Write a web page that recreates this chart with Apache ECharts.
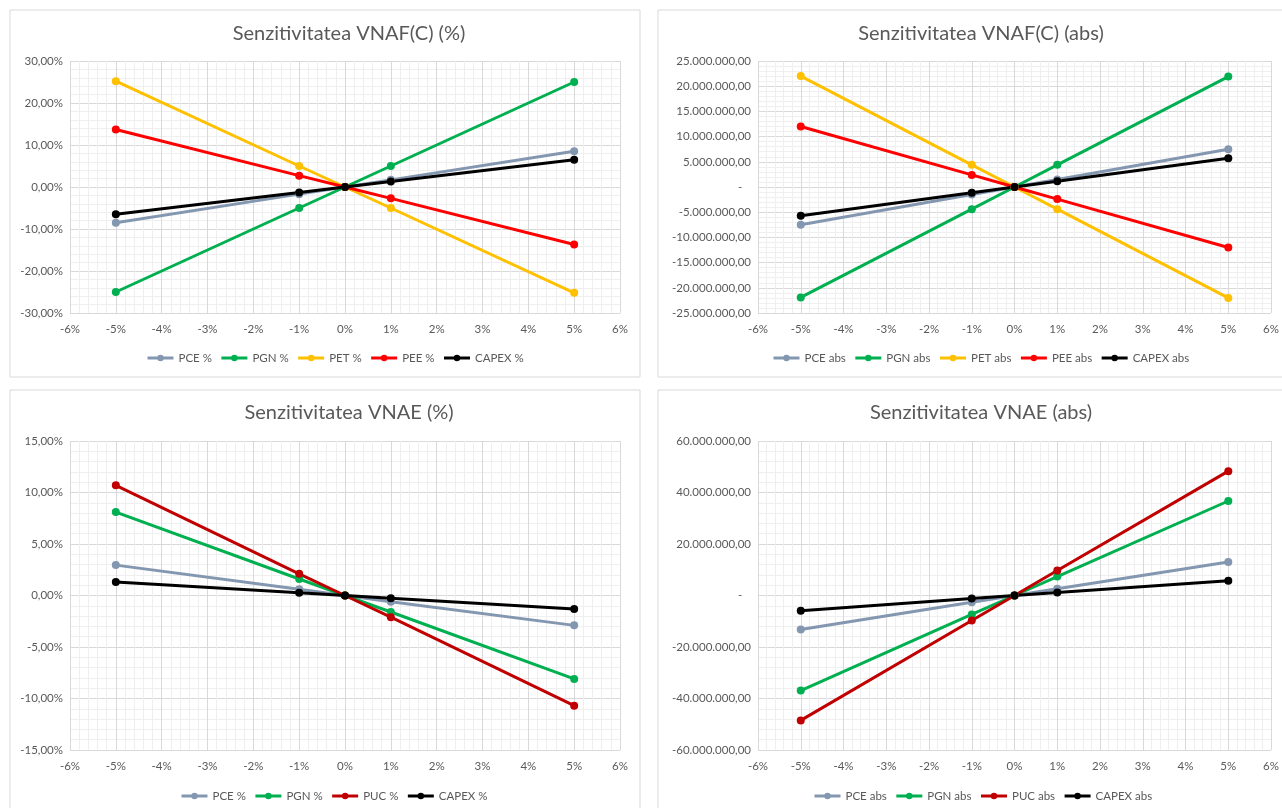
<!DOCTYPE html>
<html>
<head>
<meta charset="utf-8">
<script src="https://cdn.jsdelivr.net/npm/echarts@6/dist/echarts.min.js"></script>
<style>
html,body{margin:0;padding:0;background:#fff;}
#c{width:1282px;height:808px;}
</style>
</head>
<body>
<div id="c"></div>
<script>
// ---- data ----
const xVals = [-5, -1, 0, 1, 5]; // variation, %
const xTickMin = -6, xTickMax = 6;

// Chart 1: Senzitivitatea VNAF(C) (%)
const vnafPct_PCE   = [-8.5, -1.7, 0, 1.7, 8.5];
const vnafPct_PGN   = [-25.0, -5.0, 0, 5.0, 25.0];
const vnafPct_PET   = [25.2, 5.0, 0, -5.0, -25.2];
const vnafPct_PEE   = [13.7, 2.7, 0, -2.7, -13.7];
const vnafPct_CAPEX = [-6.5, -1.3, 0, 1.3, 6.5];

// Chart 2: Senzitivitatea VNAF(C) (abs)
const vnafAbs_PCE   = [-7500000, -1500000, 0, 1500000, 7500000];
const vnafAbs_PGN   = [-21900000, -4400000, 0, 4400000, 21900000];
const vnafAbs_PET   = [22000000, 4400000, 0, -4400000, -22000000];
const vnafAbs_PEE   = [12000000, 2400000, 0, -2400000, -12000000];
const vnafAbs_CAPEX = [-5700000, -1150000, 0, 1150000, 5700000];

// Chart 3: Senzitivitatea VNAE (%)
const vnaePct_PCE   = [2.95, 0.6, 0, -0.6, -2.9];
const vnaePct_PGN   = [8.1, 1.6, 0, -1.6, -8.1];
const vnaePct_PUC   = [10.7, 2.1, 0, -2.1, -10.7];
const vnaePct_CAPEX = [1.3, 0.27, 0, -0.27, -1.3];

// Chart 4: Senzitivitatea VNAE (abs)
const vnaeAbs_PCE   = [-13200000, -2650000, 0, 2650000, 13000000];
const vnaeAbs_PGN   = [-36900000, -7350000, 0, 7350000, 36700000];
const vnaeAbs_PUC   = [-48500000, -9700000, 0, 9700000, 48300000];
const vnaeAbs_CAPEX = [-5900000, -1150000, 0, 1150000, 5700000];

const titles = ['Senzitivitatea VNAF(C) (%)', 'Senzitivitatea VNAF(C) (abs)', 'Senzitivitatea VNAE (%)', 'Senzitivitatea VNAE (abs)'];

const C = {PCE:'#8497B0', PGN:'#00B050', PET:'#FFC000', PEE:'#FF0000', PUC:'#C00000', CAPEX:'#000000'};
const FONT = 'Lato, "Open Sans", sans-serif';
const TXT = '#595959';

// ---- layout ----
const boxes = [
  {x:10, y:10, w:630, h:367},
  {x:658, y:10, w:640, h:367},
  {x:10, y:390, w:630, h:430},
  {x:658, y:390, w:640, h:430}
];
const grids = [
  {left:70, top:61, width:550, height:252},
  {left:758, top:61, width:514, height:252},
  {left:70, top:441, width:550, height:309},
  {left:758, top:441, width:514, height:309}
];
const yRanges = [
  {min:-30, max:30, interval:10, kind:'pct'},
  {min:-25000000, max:25000000, interval:5000000, kind:'abs'},
  {min:-15, max:15, interval:5, kind:'pct'},
  {min:-60000000, max:60000000, interval:20000000, kind:'abs'}
];
const titlePos = [{x:344, y:19}, {x:976, y:19}, {x:344, y:398}, {x:976, y:398}];
const legendPos = [{x:141, y:347}, {x:767, y:347}, {x:175, y:785}, {x:808, y:785}];

function fmtAbs(v){
  if (v === 0) return '-   ';
  const neg = v < 0; const a = Math.abs(Math.round(v));
  const s = String(a).replace(/\B(?=(\d{3})+(?!\d))/g, '.');
  return (neg ? '-' : '') + s + ',00';
}
function fmtPct(v){ return v.toFixed(2).replace('.', ',') + '%'; }

const seriesDefs = [
  [['PCE %', vnafPct_PCE, C.PCE], ['PGN %', vnafPct_PGN, C.PGN], ['PET %', vnafPct_PET, C.PET], ['PEE %', vnafPct_PEE, C.PEE], ['CAPEX %', vnafPct_CAPEX, C.CAPEX]],
  [['PCE abs', vnafAbs_PCE, C.PCE], ['PGN abs', vnafAbs_PGN, C.PGN], ['PET abs', vnafAbs_PET, C.PET], ['PEE abs', vnafAbs_PEE, C.PEE], ['CAPEX abs', vnafAbs_CAPEX, C.CAPEX]],
  [['PCE %', vnaePct_PCE, C.PCE], ['PGN %', vnaePct_PGN, C.PGN], ['PUC %', vnaePct_PUC, C.PUC], ['CAPEX %', vnaePct_CAPEX, C.CAPEX]],
  [['PCE abs', vnaeAbs_PCE, C.PCE], ['PGN abs', vnaeAbs_PGN, C.PGN], ['PUC abs', vnaeAbs_PUC, C.PUC], ['CAPEX abs', vnaeAbs_CAPEX, C.CAPEX]]
];

const option = {
  animation:false,
  backgroundColor:'#fff',
  textStyle:{fontFamily:FONT},
  title: titles.map((t,i)=>({text:t, left:titlePos[i].x, top:titlePos[i].y, textAlign:'center',
    textStyle:{fontFamily:FONT, fontSize:20, fontWeight:'normal', color:TXT}})),
  graphic: boxes.map(b=>({type:'rect', shape:{x:b.x, y:b.y, width:b.w, height:b.h}, z:-10,
    style:{fill:'#fff', stroke:'#d9d9d9', lineWidth:1}})),
  grid: grids.map(g=>Object.assign({containLabel:false}, g)),
  xAxis: grids.map((g,i)=>({type:'value', gridIndex:i, min:xTickMin, max:xTickMax, interval:1,
    axisLine:{show:false}, axisTick:{show:false},
    axisLabel:{color:TXT, fontSize:11.5, fontFamily:FONT, margin:10, formatter:v=>v+'%'},
    splitLine:{show:true, lineStyle:{color:'#d9d9d9', width:1}},
    minorTick:{show:false, splitNumber:5},
    minorSplitLine:{show:true, lineStyle:{color:'#efefef', width:1}}})),
  yAxis: yRanges.map((r,i)=>({type:'value', gridIndex:i, min:r.min, max:r.max, interval:r.interval,
    axisLine:{show:false}, axisTick:{show:false},
    axisLabel:{color:TXT, fontSize:11.5, fontFamily:FONT, margin:7, formatter: r.kind==='pct'?fmtPct:fmtAbs},
    splitLine:{show:true, lineStyle:{color:'#d9d9d9', width:1}},
    minorTick:{show:false, splitNumber:5},
    minorSplitLine:{show:true, lineStyle:{color:'#efefef', width:1}}})),
  legend: seriesDefs.map((defs,i)=>({
    data: defs.map(d=>d[0]), left:legendPos[i].x, top:legendPos[i].y, width:560,
    orient:'horizontal', itemWidth:26, itemHeight:8, itemGap:8,
    lineStyle:{width:3},
    textStyle:{color:TXT, fontSize:11.5, fontFamily:FONT}
  })),
  series: []
};
seriesDefs.forEach((defs,i)=>{
  defs.forEach(d=>{
    option.series.push({
      type:'line', name:d[0], xAxisIndex:i, yAxisIndex:i,
      data: xVals.map((x,k)=>[x, d[1][k]]),
      symbol:'circle', symbolSize:8, showSymbol:true,
      lineStyle:{color:d[2], width:3}, itemStyle:{color:d[2]},
      emphasis:{disabled:true}
    });
  });
});
const chart = echarts.init(document.getElementById('c'));
chart.setOption(option);
</script>
</body>
</html>
